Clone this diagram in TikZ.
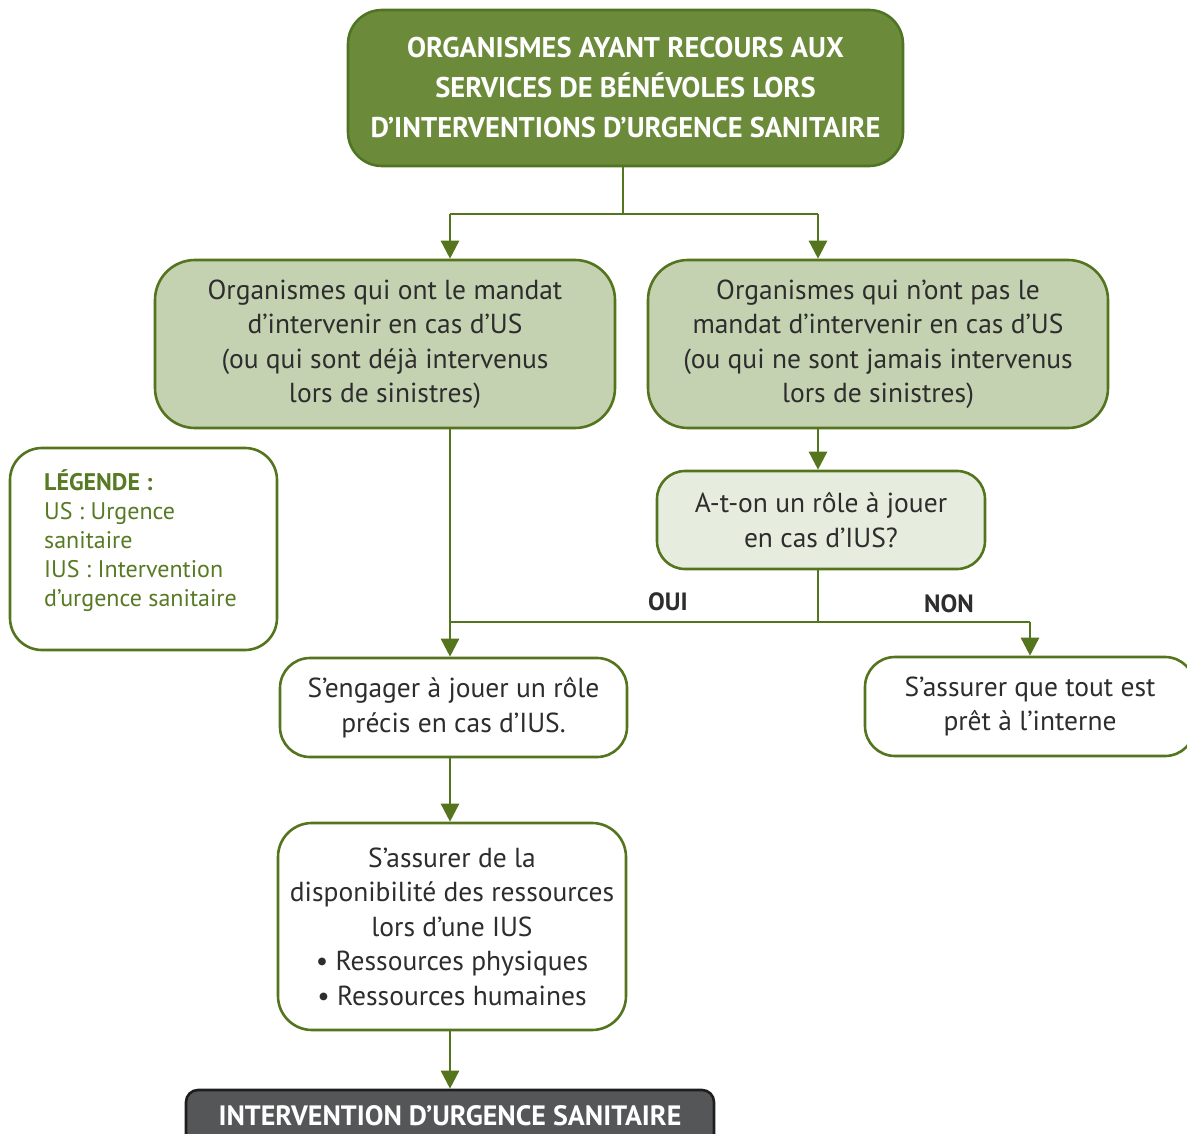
\documentclass[tikz,border=0pt]{standalone}
\usepackage{fontspec}
\setmainfont{PT Sans}
\usetikzlibrary{arrows.meta}
\definecolor{dkgreen}{RGB}{107,139,59}
\definecolor{dkborder}{RGB}{80,116,36}
\definecolor{lnkgreen}{RGB}{84,117,30}
\definecolor{ltgreen}{RGB}{197,210,178}
\definecolor{qgreen}{RGB}{230,236,222}
\definecolor{legtxt}{RGB}{88,122,36}
\definecolor{txtgray}{RGB}{45,45,45}
\definecolor{finfill}{RGB}{85,86,88}
\definecolor{finborder}{RGB}{30,30,30}
\begin{document}
\begin{tikzpicture}[x=1pt,y=-1pt,
  box/.style={draw=lnkgreen, line width=2.6pt, rounded corners=30pt, align=center, inner sep=0pt, text=txtgray, font=\fontsize{27.5}{34.5}\selectfont},
  arr/.style={draw=lnkgreen, line width=2.6pt, -{Triangle[length=18pt,width=18pt]}},
  ln/.style={draw=lnkgreen, line width=2.6pt},
  lbl/.style={font=\bfseries\fontsize{25}{25}\selectfont, text=txtgray, inner sep=0pt}]
\useasboundingbox (0,0) rectangle (1187,1134);

\node[box, fill=dkgreen, draw=dkborder, minimum width=555pt, minimum height=156pt, rounded corners=34pt, text=white, font=\bfseries\fontsize{28.5}{40}\selectfont] (top) at (625.5,88) {ORGANISMES AYANT RECOURS AUX\\SERVICES DE BÉNÉVOLES LORS\\D’INTERVENTIONS D’URGENCE SANITAIRE};

\node[box, fill=ltgreen, minimum width=460pt, minimum height=168pt, rounded corners=40pt] (lm) at (385,344) {Organismes qui ont le mandat\\d’intervenir en cas d’US\\(ou qui sont déjà intervenus\\lors de sinistres)};

\node[box, fill=ltgreen, minimum width=460pt, minimum height=168pt, rounded corners=40pt] (rm) at (878,344) {Organismes qui n’ont pas le\\mandat d’intervenir en cas d’US\\(ou qui ne sont jamais intervenus\\lors de sinistres)};

\node[box, fill=qgreen, minimum width=328pt, minimum height=98pt, rounded corners=28pt] (q) at (821,520) {A-t-on un rôle à jouer\\en cas d’IUS?};

\node[box, fill=white, minimum width=267pt, minimum height=202pt, rounded corners=32pt] (leg) at (143.5,549) {};
\node[anchor=west, align=left, inner sep=0pt, text=legtxt, font=\fontsize{24}{29}\selectfont] (legt) at (44,541) {\textbf{LÉGENDE :}\\US : Urgence\\sanitaire\\IUS : Intervention\\d’urgence sanitaire};

\node[box, fill=white, minimum width=347pt, minimum height=99pt, rounded corners=30pt] (eng) at (453.5,707.5) {S’engager à jouer un rôle\\précis en cas d’IUS.};

\node[box, fill=white, minimum width=330pt, minimum height=99pt, rounded corners=30pt] (pret) at (1030,706.5) {S’assurer que tout est\\prêt à l’interne};

\node[box, fill=white, minimum width=348pt, minimum height=207pt, rounded corners=34pt] (dispo) at (452,926.5) {S’assurer de la\\disponibilité des ressources\\lors d’une IUS\\\textbullet{} Ressources physiques\\\textbullet{} Ressources humaines};

\node[box, fill=finfill, draw=finborder, minimum width=528pt, minimum height=56pt, rounded corners=12pt, text=white, font=\bfseries\fontsize{28}{30}\selectfont] (fin) at (450,1118) {\raisebox{5pt}{INTERVENTION D’URGENCE SANITAIRE}};

\coordinate (ja) at (450,214);
\coordinate (jb) at (818,214);
\coordinate (jc) at (818,622);
\coordinate (jd) at (450,622);
\coordinate (je) at (1030,622);

\draw[ln] (top.south -| 623,0) -- (623,214);
\draw[ln] (ja) -- (jb);
\draw[arr] (ja) -- (lm.north -| ja);
\draw[arr] (jb) -- (rm.north -| jb);
\draw[arr] (lm.south -| ja) -- (eng.north -| ja);
\draw[arr] (rm.south -| jb) -- (q.north -| jb);
\draw[ln] (q.south -| jc) -- (jc);
\draw[ln] (jd) -- (je);
\draw[arr] (je) -- (pret.north -| je);
\draw[arr] (eng.south -| ja) -- (dispo.north -| ja);
\draw[arr] (dispo.south -| ja) -- (fin.north -| ja);

\node[lbl] (oui) at (668,602) {OUI};
\node[lbl] (non) at (949,604) {NON};
\end{tikzpicture}
\end{document}
